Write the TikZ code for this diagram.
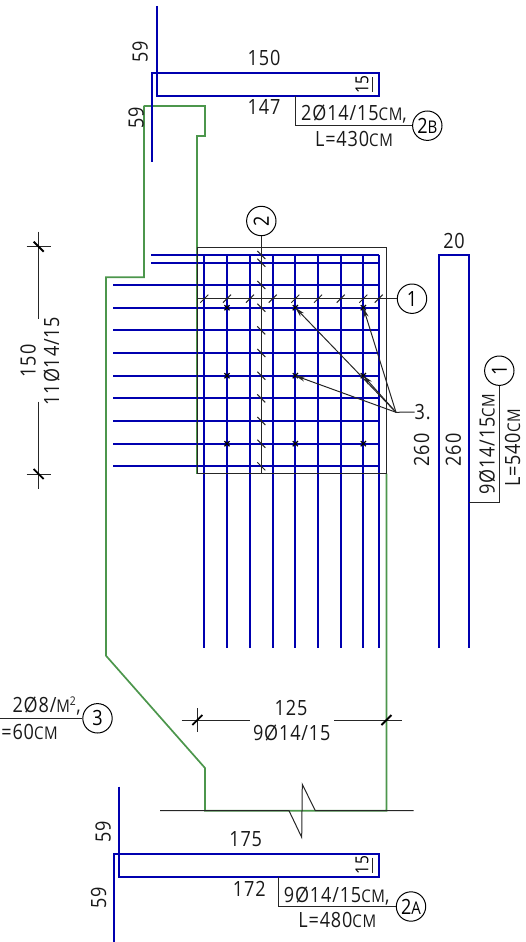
\documentclass[tikz,border=0pt]{standalone}
\usepackage{fontspec}
\usetikzlibrary{arrows.meta}
\setmainfont[FakeStretch=0.86,LetterSpace=4]{Open Sans}
\definecolor{rebar}{RGB}{0,0,175}
\definecolor{conc}{RGB}{76,150,76}
\newcommand{\smc}[1]{{\fontsize{17.5}{18}\selectfont #1}}
\newcommand{\ulnum}[1]{\tikz[baseline=0pt]{\node[inner sep=0pt,anchor=base] (u) at (0,0) {#1};\draw[line width=1pt] (u.base west) ++(0,-2pt) -- ++(\pgfkeysvalueof{/pgf/minimum width},0) (u.base west) ++(0,-2pt) -- (u.base east |- 0,-2pt);}}
\tikzset{
  bar/.style={draw=rebar,line width=2.1pt},
  concrete/.style={draw=conc,line width=1.7pt,line join=miter},
  thin line/.style={draw=black!85,line width=1pt},
  heavy tick/.style={draw=black,line width=1.8pt},
  lbl/.style={inner sep=0pt,font=\fontsize{21}{23}\selectfont,text=black!90},
  rlbl/.style={lbl,rotate=90},
  balloon/.style={circle,draw=black,line width=1pt,fill=white,minimum size=29.4pt,inner sep=0pt,font=\fontsize{21}{23}\selectfont},
  tiny lbl/.style={inner sep=0pt,rotate=90,font=\fontsize{18}{19}\selectfont},
  point/.style={-{Stealth[length=10pt,width=5pt]},thin line},
}
\begin{document}
\begin{tikzpicture}[x=1pt,y=-1pt]
\useasboundingbox (0,0) rectangle (525,942);
% concrete outline
\draw[concrete] (144,105.7) -- (204.7,105.7) -- (204.7,135.7) -- (197.3,135.7) -- (197.3,473.5);
\draw[concrete] (144,105.7) -- (144,277.3) -- (106,277.3) -- (106,655.7) -- (205,768) -- (205,810.7) -- (386.5,810.7) -- (386.5,473.5);
% grid of bars
\foreach \y in {255,262.7} \draw[bar] (151,\y) -- (379,\y);
\foreach \y in {285,307.7,330.4,353,375.7,398.4,421,443.7,466.3} \draw[bar] (113.3,\y) -- (379,\y);
\foreach \x in {204.3,227,250,272.7,295.3,318,340.7,363.3,378.7} \draw[bar] (\x,255) -- (\x,648);
% top bar
\draw[bar,line join=miter] (156.7,6) -- (156.7,95.7) -- (379,95.7) -- (379,72.7) -- (151.7,72.7) -- (151.7,162);
% bottom bar
\draw[bar,line join=miter] (118.7,786.7) -- (118.7,876.7) -- (379,876.7) -- (379,853.7) -- (114.3,853.7) -- (114.3,942);
% right bar
\draw[bar,line join=miter] (439,648) -- (439,254.7) -- (469.3,254.7) -- (469.3,648);
% box
\draw[thin line] (197.3,247.3) rectangle (386.7,473.5);
% balloons
\node[balloon] (n2) at (261.3,221) {\rotatebox{90}{2}};
\node[balloon] (n1) at (412,298.7) {1};
\node[balloon] (n2b) at (427.3,125.7) {2\smc{B}};
\node[balloon] (n2a) at (411,906.5) {2\smc{A}};
\node[balloon] (n3) at (97.5,718.3) {3};
\node[balloon] (n1b) at (499.3,370.7) {\rotatebox{90}{1}};
% section lines
\coordinate (s2end) at (261.3,473.5);
\coordinate (s1end) at (197.3,298.7);
\draw[thin line] (n2) -- (s2end);
\draw[thin line] (n1) -- (s1end);
\foreach \x in {204.3,227,250,272.7,295.3,318,340.7,363.3,378.7}
  \draw[thin line] (\x-4,298.7+4) -- (\x+4,298.7-4);
\foreach \y in {255,262.7,285,307.7,330.4,353,375.7,398.4,421,443.7,466.3}
  \draw[thin line] (261.3-4,\y-4) -- (261.3+4,\y+4);
% ties
\foreach \x in {227,295.3,363.3} \foreach \y in {307.7,375.7,443.7} {
  \draw[draw=black,line width=1.2pt] (\x-2.6,\y-2.6) -- (\x+2.6,\y+2.6) (\x-2.6,\y+2.6) -- (\x+2.6,\y-2.6);
}
% pointers
\node[lbl,anchor=west] (t3) at (414.5,412) {3.};
\coordinate (hub) at (396,412.3);
\coordinate (a1) at (295.3,307.7);
\coordinate (a2) at (363.3,307.7);
\coordinate (a3) at (363.3,375.7);
\coordinate (a4) at (295.3,375.7);
\draw[thin line] (t3.west) -- (hub);
\draw[point] (hub) -- (a1);
\draw[point] (hub) -- (a2);
\draw[point] (hub) -- (a3);
\draw[point] (hub) -- (a4);
% top labels
\node[rlbl] (t59a) at (140,52) {59};
\node[rlbl] (t59b) at (136,118) {59};
\node[lbl] (t150) at (264,57.7) {150};
\node[lbl] (t147) at (264,107) {147};
\node[tiny lbl] (t15a) at (362,84.5) {15};
\coordinate (u1) at (372,77);
\coordinate (u2) at (372,92);
\draw[thin line] (u1) -- (u2);
\coordinate (l2b) at (295.7,95.7);
\coordinate (l2bk) at (295.7,125.7);
\draw[thin line] (l2b) -- (l2bk) -- (n2b);
\node[lbl] (t2b1) at (354,114) {2Ø14/15\smc{CM},};
\node[lbl] (t2b2) at (354,139.3) {L=430\smc{CM}};
% right labels
\node[lbl] (t20) at (454,241) {20};
\node[rlbl] (t260a) at (421.7,450) {260};
\node[rlbl] (t260b) at (453.3,450) {260};
\coordinate (l1) at (469.3,502.7);
\coordinate (l1k) at (499.3,502.7);
\draw[thin line] (l1) -- (l1k) -- (n1b);
\node[rlbl] (t1a) at (487,444) {9Ø14/15\smc{CM}};
\node[rlbl] (t1b) at (512.7,448) {L=540\smc{CM}};
% left dimension
\coordinate (da) at (38.7,231.7);
\coordinate (db) at (38.7,319);
\coordinate (dc) at (38.7,401.7);
\coordinate (dd) at (38.7,489.3);
\coordinate (e1) at (26.7,246.7);
\coordinate (e2) at (51,246.7);
\coordinate (e3) at (26.7,474);
\coordinate (e4) at (51,474);
\draw[thin line] (da) -- (db) (dc) -- (dd) (e1) -- (e2) (e3) -- (e4);
\draw[heavy tick] (33.7,241.7) -- (43.7,251.7);
\draw[heavy tick] (33.7,469) -- (43.7,479);
\node[rlbl] (t150l) at (28,361) {150};
\node[rlbl] (t11) at (51.7,361) {11Ø14/15};
% bottom dimension
\coordinate (f1) at (181.7,720);
\coordinate (f2) at (249.7,720);
\coordinate (f3) at (334.3,720);
\coordinate (f4) at (401.7,720);
\coordinate (f5) at (197.3,708);
\coordinate (f6) at (197.3,732);
\draw[thin line] (f1) -- (f2) (f3) -- (f4) (f5) -- (f6);
\draw[heavy tick] (192.3,725) -- (202.3,715);
\draw[heavy tick] (381.5,725) -- (391.5,715);
\node[lbl] (t125) at (291,708) {125};
\node[lbl] (t9) at (291.7,732.7) {9Ø14/15};
% ground with break
\coordinate (g1) at (160,810.7);
\coordinate (g2) at (289,810.7);
\coordinate (g3) at (301.7,837.3);
\coordinate (g4) at (302.3,784.3);
\coordinate (g5) at (315.3,810.7);
\coordinate (g6) at (413.7,810.7);
\draw[thin line] (g1) -- (g2) -- (g3) -- (g4) -- (g5) -- (g6);
% label 3
\coordinate (l3) at (0,718.3);
\draw[thin line] (l3) -- (n3);
\node[lbl,anchor=east] (t3a) at (81,706) {2Ø8/\smc{M}\textsuperscript{\fontsize{12}{12}\selectfont 2},};
\node[lbl,anchor=east] (t3b) at (58,732) {=60\smc{CM}};
% bottom labels
\node[rlbl] (t59c) at (103,831.7) {59};
\node[rlbl] (t59d) at (98.7,898) {59};
\node[lbl] (t175) at (245.7,839) {175};
\node[lbl] (t172) at (249.3,889) {172};
\node[tiny lbl] (t15b) at (362,865) {15};
\coordinate (u3) at (372,857.5);
\coordinate (u4) at (372,872.5);
\draw[thin line] (u3) -- (u4);
\coordinate (l2a) at (278.7,876.7);
\coordinate (l2ak) at (278.7,906.5);
\draw[thin line] (l2a) -- (l2ak) -- (n2a);
\node[lbl] (t2a1) at (336.7,896) {9Ø14/15\smc{CM},};
\node[lbl] (t2a2) at (337.3,920) {L=480\smc{CM}};
\end{tikzpicture}
\end{document}
